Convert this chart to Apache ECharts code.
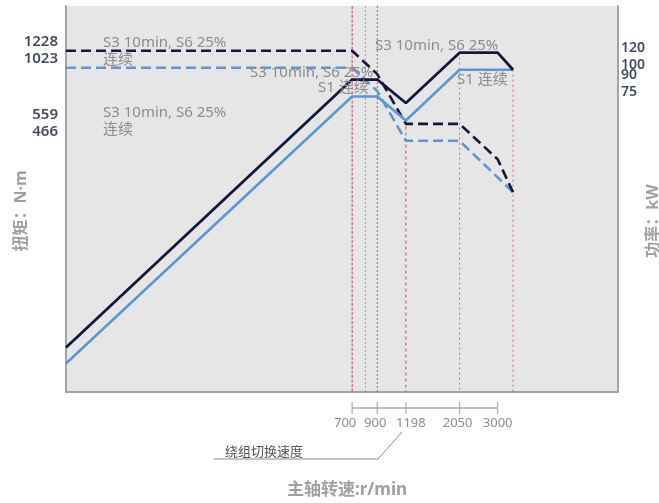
<!DOCTYPE html>
<html><head><meta charset="utf-8">
<script src="https://cdn.jsdelivr.net/npm/echarts@6/dist/echarts.min.js"></script>
<style>html,body{margin:0;padding:0;background:#fff}#c{width:659px;height:503px}</style>
</head><body><div id="c"></div>
<script>
// ---- data ----
const speedTicks = [700, 900, 1198, 2050, 3000];
const torqueTicks = [1228, 1023, 559, 466];
const powerTicks = [120, 100, 90, 75];
const speedS3 = [40, 700, 900, 1198, 2050, 3000, 3500];
const torqueS3 = [1228, 1228, 955, 559, 559, 382, 268];
const powerS3 = [5.1, 90, 90, 70, 120, 120, 100];
const speedS1 = [40, 700, 900, 1198, 2050, 3500];
const torqueS1 = [1023, 1023, 796, 466, 466, 268];
const powerS1 = [4.3, 75, 75, 58, 100, 100];
const guideSpeeds = [700, 800, 900, 1198, 2050, 3500];
const guideFromPower = [null, null, null, 58, 120, 100];

// ---- axis ranges (log-log chart) ----
const SPEED_MIN = 40, SPEED_MAX = 10000;
const T_MIN = 31.2, T_MAX = 1988;
const P_MIN = 3.17, P_MAX = 197.8;

// ---- styling ----
const FONT = "'Noto Sans', 'Noto Sans CJK SC', sans-serif";
const DARK = '#13183a', BLUE = '#5b97d6', RED = '#e5384f', BORDER = '#a3a3a3', GRAYTXT = '#8c8c8c';
const guideTypes = [[3, 1.5], [2, 2], [2, 2], [3, 3], [2, 3], [2, 3]];
const guideOpacity = [1, 0.55, 0.95, 0.95, 0.75, 0.75];
const tickLabelShift = [-7, -2, 5, -2, 0];

const zip = (xs, ys) => xs.map((x, i) => [x, ys[i]]);

const series = [];
guideSpeeds.forEach((s, i) => {
  series.push({
    type: 'line', xAxisIndex: 0, yAxisIndex: 1, z: 1, silent: true, symbol: 'none',
    data: [[s, guideFromPower[i] == null ? P_MAX : guideFromPower[i]], [s, P_MIN]],
    lineStyle: { color: RED, width: 1, type: guideTypes[i], opacity: guideOpacity[i] }
  });
});
series.push(
  { type: 'line', xAxisIndex: 0, yAxisIndex: 0, z: 3, symbol: 'none', data: zip(speedS1, torqueS1),
    lineStyle: { color: BLUE, width: 2.6, type: [10, 5] } },
  { type: 'line', xAxisIndex: 0, yAxisIndex: 0, z: 3, symbol: 'none', data: zip(speedS3, torqueS3),
    lineStyle: { color: DARK, width: 2.6, type: [10, 5] } },
  { type: 'line', xAxisIndex: 0, yAxisIndex: 1, z: 4, symbol: 'none', data: zip(speedS1, powerS1),
    lineStyle: { color: BLUE, width: 2.6 } },
  { type: 'line', xAxisIndex: 0, yAxisIndex: 1, z: 4, symbol: 'none', data: zip(speedS3, powerS3),
    lineStyle: { color: DARK, width: 2.8 } },
  // left axis labels (torque)
  { type: 'scatter', xAxisIndex: 0, yAxisIndex: 0, clip: false, symbolSize: 0, silent: true,
    data: torqueTicks.map(v => [SPEED_MIN, v]),
    label: { show: true, position: 'left', distance: 8, offset: [0, -9],
      formatter: p => String(p.value[1]), color: DARK, fontSize: 15, fontWeight: 600, fontFamily: FONT } },
  // right axis labels (power)
  { type: 'scatter', xAxisIndex: 0, yAxisIndex: 1, clip: false, symbolSize: 0, silent: true,
    data: powerTicks.map(v => [SPEED_MAX, v]),
    label: { show: true, position: 'right', distance: 3, offset: [0, -5],
      formatter: p => String(p.value[1]), color: DARK, fontSize: 14, fontWeight: 600, fontFamily: FONT } },
  // speed tick bar
  { type: 'line', xAxisIndex: 1, yAxisIndex: 2, symbol: 'none', silent: true,
    data: [[speedTicks[0], 1], [speedTicks[speedTicks.length - 1], 1]],
    lineStyle: { color: '#a8a8a8', width: 1.5 } },
  { type: 'scatter', xAxisIndex: 1, yAxisIndex: 2, clip: false, symbol: 'rect', symbolSize: [1.3, 12], silent: true,
    itemStyle: { color: '#9a9a9a' },
    data: speedTicks.map((v, i) => ({ value: [v, 1], label: { offset: [tickLabelShift[i], 0] } })),
    label: { show: true, position: 'bottom', distance: 3, formatter: p => String(p.value[0]),
      color: '#707070', fontSize: 13, fontFamily: FONT } }
);

const txt = (text, x, y, opts) => Object.assign({
  type: 'text', x, y, z: 100, silent: true,
  style: Object.assign({ text, fill: GRAYTXT, font: '15px ' + FONT, textAlign: 'left', textVerticalAlign: 'middle' }, opts || {})
});

const option = {
  animation: false,
  grid: [
    { left: 66, top: 6, right: 41, bottom: 111, show: true, backgroundColor: '#e6e6e6', borderWidth: 0 },
    { left: 66, top: 402, right: 41, height: 12, show: false }
  ],
  xAxis: [
    { type: 'log', gridIndex: 0, min: SPEED_MIN, max: SPEED_MAX, position: 'bottom',
      axisLine: { show: true, lineStyle: { color: BORDER, width: 2 } },
      axisTick: { show: false }, axisLabel: { show: false }, splitLine: { show: false }, minorTick: { show: false } },
    { type: 'log', gridIndex: 1, min: SPEED_MIN, max: SPEED_MAX,
      axisLine: { show: false }, axisTick: { show: false }, axisLabel: { show: false }, splitLine: { show: false } }
  ],
  yAxis: [
    { type: 'log', gridIndex: 0, min: T_MIN, max: T_MAX, position: 'left',
      axisLine: { show: true, lineStyle: { color: BORDER, width: 2 } },
      axisTick: { show: false }, axisLabel: { show: false }, splitLine: { show: false } },
    { type: 'log', gridIndex: 0, min: P_MIN, max: P_MAX, position: 'right',
      axisLine: { show: true, lineStyle: { color: BORDER, width: 2 } },
      axisTick: { show: false }, axisLabel: { show: false }, splitLine: { show: false } },
    { type: 'value', gridIndex: 1, min: 0, max: 2, show: false }
  ],
  series,
  graphic: [
    txt('S3 10min, S6 25%', 103, 43),
    txt('连续', 103, 60),
    txt('S3 10min, S6 25%', 103, 113),
    txt('连续', 103, 130),
    txt('S3 10min, S6 25%', 250, 73),
    txt('S1 连续', 318, 88),
    txt('S3 10min, S6 25%', 375, 46),
    txt('S1 连续', 457, 80),
    Object.assign(txt('扭矩：N·m', 21.5, 211, { font: 'bold 16px ' + FONT, fill: '#a0a0a0', textAlign: 'center' }), { rotation: Math.PI / 2 }),
    Object.assign(txt('功率：kW', 653, 221, { font: 'bold 16px ' + FONT, fill: '#a0a0a0', textAlign: 'center' }), { rotation: Math.PI / 2 }),
    txt('主轴转速:r/min', 347, 490, { font: 'bold 17px ' + FONT, fill: '#a0a0a0', textAlign: 'center' }),
    txt('绕组切换速度', 225, 452, { font: '13px ' + FONT, fill: '#555' }),
    { type: 'polyline', z: 100, silent: true, shape: { points: [[214, 459], [378, 459], [402, 432]] },
      style: { stroke: '#8a8a8a', lineWidth: 1, fill: null } }
  ]
};
const chart = echarts.init(document.getElementById('c'), null, { renderer: 'canvas' });
chart.setOption(option);
</script>
</body></html>
